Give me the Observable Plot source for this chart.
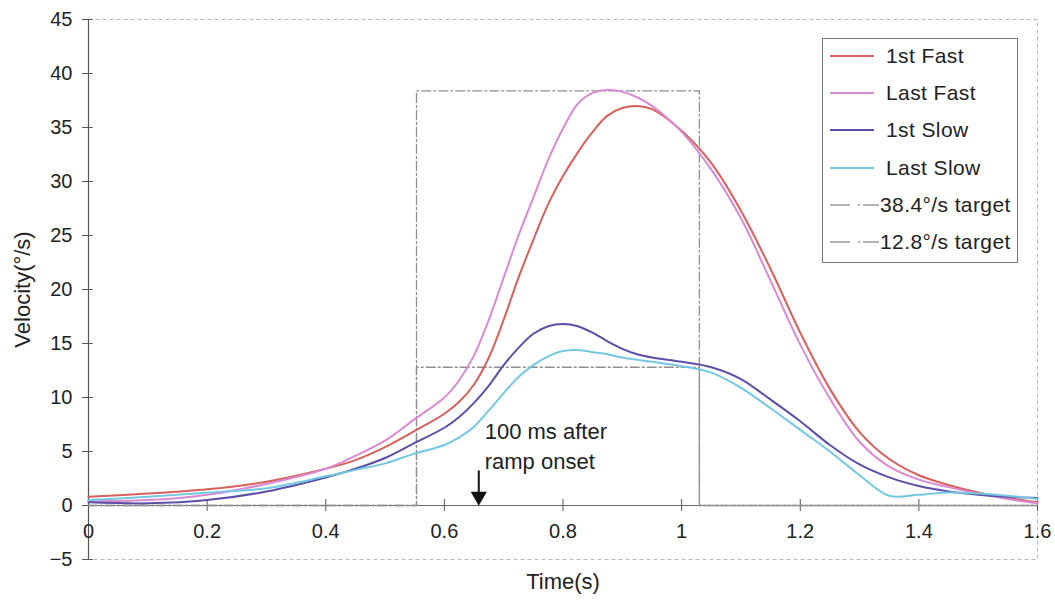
<!DOCTYPE html>
<html>
<head>
<meta charset="utf-8">
<script src="https://cdn.jsdelivr.net/npm/d3@7"></script>
<script src="https://cdn.jsdelivr.net/npm/@observablehq/plot@0.6"></script>
<style>
  body { margin: 0; background: #fff; font-family: "Liberation Sans", Arial, sans-serif; }
  #wrap { position: relative; width: 1055px; height: 601px; }
  #legend { position: absolute; left: 822px; top: 38px; width: 196px; height: 225px; border: 1px solid #777; background: #fff; box-sizing: border-box; }
  .row { position: absolute; left: 0; height: 24px; display: flex; align-items: center; font-size: 21px; color: #222; letter-spacing: 0.4px; white-space: nowrap; }
  .row svg { flex: none; }
</style>
</head>
<body>
<div id="wrap"></div>
<script>
// ---- data ----
const times      = [0, 0.1, 0.2, 0.3, 0.4, 0.45, 0.5, 0.55, 0.6, 0.625, 0.65, 0.675, 0.7, 0.725, 0.75, 0.775, 0.8, 0.825, 0.85, 0.875, 0.9, 0.925, 0.95, 1.0, 1.05, 1.1, 1.15, 1.2, 1.25, 1.3, 1.35, 1.4, 1.45, 1.5, 1.55, 1.6];
const firstFast  = [0.8, 1.1, 1.5, 2.2, 3.4, 4.2, 5.4, 6.9, 8.5, 9.6, 11.2, 13.7, 17.2, 21.1, 24.6, 27.9, 30.5, 32.7, 34.6, 36.1, 36.8, 37.0, 36.7, 34.7, 31.7, 27.3, 21.9, 16.0, 10.8, 6.8, 4.3, 2.8, 1.9, 1.2, 0.7, 0.3];
const lastFast   = [0.4, 0.5, 1.0, 2.0, 3.4, 4.6, 6.0, 8.0, 10.0, 11.6, 13.9, 17.2, 21.1, 25.0, 28.5, 32.0, 34.9, 37.2, 38.2, 38.5, 38.3, 37.8, 37.0, 34.6, 31.1, 26.6, 20.8, 14.9, 9.9, 5.9, 3.6, 2.4, 1.7, 1.1, 0.6, 0.2];
const firstSlow  = [0.3, 0.2, 0.5, 1.3, 2.6, 3.4, 4.4, 5.8, 7.2, 8.2, 9.5, 11.1, 13.0, 14.6, 15.9, 16.6, 16.8, 16.6, 16.0, 15.2, 14.5, 14.0, 13.7, 13.3, 12.8, 11.7, 9.8, 7.8, 5.6, 3.8, 2.6, 1.8, 1.3, 1.0, 0.8, 0.7];
const lastSlow   = [0.5, 0.8, 1.2, 1.6, 2.7, 3.3, 3.9, 4.8, 5.6, 6.3, 7.3, 8.8, 10.4, 11.9, 13.0, 13.8, 14.3, 14.4, 14.2, 14.0, 13.7, 13.5, 13.3, 12.9, 12.3, 10.9, 9.0, 7.0, 5.0, 2.8, 0.9, 1.0, 1.2, 1.1, 0.9, 0.6];

const seriesNames  = ["1st Fast", "Last Fast", "1st Slow", "Last Slow"];
const seriesValues = [firstFast, lastFast, firstSlow, lastSlow];
const seriesColors = ["#d8605a", "#d98ad2", "#5b4fa8", "#74c8e2"];

const targetNames  = ["38.4°/s target", "12.8°/s target"];
const targetLevels = [38.4, 12.8];
const rampOnset = 0.553, rampEnd = 1.03, endTime = 1.6;

const annotationText = "100 ms after\nramp onset";
const annotationTime = 0.658;

const xTicks = [0, 0.2, 0.4, 0.6, 0.8, 1, 1.2, 1.4, 1.6];
const yTicks = [-5, 0, 5, 10, 15, 20, 25, 30, 35, 40, 45];

// ---- build tables ----
const curves = seriesNames.flatMap((name, i) =>
  times.map((t, j) => ({series: name, t, v: seriesValues[i][j]})));
const targets = targetNames.flatMap((name, i) => {
  const L = targetLevels[i];
  return [[0, 0], [rampOnset, 0], [rampOnset, L], [rampEnd, L], [rampEnd, 0], [endTime, 0]]
    .map(([t, v]) => ({series: name, t, v}));
});

const fs = 20;
const chart = Plot.plot({
  width: 1055,
  height: 601,
  marginLeft: 88,
  marginRight: 18,
  marginTop: 19,
  marginBottom: 42,
  style: {fontFamily: "'Liberation Sans', Arial, sans-serif", fontSize: fs + "px", color: "#222", background: "#fff"},
  x: {domain: [0, 1.6], axis: null},
  y: {domain: [-5, 45], axis: null},
  color: {domain: seriesNames, range: seriesColors},
  marks: [
    Plot.frame({stroke: "#b8b8b8", strokeDasharray: "4,3"}),
    Plot.ruleX([0], {stroke: "#555", strokeWidth: 1.2}),
    Plot.ruleY([0], {stroke: "#6a6a6a", strokeWidth: 1.2}),
    Plot.ruleY(yTicks, {y: d => d, x1: -0.01, x2: 0.008, stroke: "#555"}),
    Plot.axisY(yTicks, {tickSize: 0, tickPadding: 16, fontSize: fs, label: null, letterSpacing: 0.5}),
    Plot.ruleX(xTicks, {x: d => d, y1: -0.55, y2: 0.55, stroke: "#555"}),
    Plot.text(xTicks, {x: d => d, y: 0, dy: 26, text: d => String(d), fontSize: fs, fill: "#222", letterSpacing: 0.5}),
    Plot.line(targets, {x: "t", y: "v", z: "series", stroke: "#8f8f8f", strokeWidth: 1.3, strokeDasharray: "9,3,2,3"}),
    Plot.line(curves, {x: "t", y: "v", z: "series", stroke: "series", strokeWidth: 2, curve: "catmull-rom"}),
    Plot.text([annotationText], {x: 0.668, y: 8.15, text: d => d, textAnchor: "start", lineAnchor: "top", lineHeight: 1.36, fontSize: 22, fill: "#222", letterSpacing: 0.5}),
    Plot.ruleX([annotationTime], {x: d => d, y1: 3.2, y2: 1.0, stroke: "#111", strokeWidth: 2}),
    Plot.dot([annotationTime], {x: d => d, y: 0.85, symbol: "triangle", rotate: 180, r: 6, fill: "#111", stroke: "none"}),
    Plot.text(["Velocity(°/s)"], {frameAnchor: "left", dx: -66, rotate: -90, textAnchor: "middle", text: d => d, fontSize: 22, fill: "#222", letterSpacing: 0.6}),
    Plot.text(["Time(s)"], {frameAnchor: "bottom", dy: 29, text: d => d, fontSize: 22, fill: "#222", letterSpacing: 0.3})
  ]
});

const wrap = document.getElementById("wrap");
wrap.appendChild(chart);

// legend
const legend = document.createElement("div");
legend.id = "legend";
const rowTops = [5, 42, 79, 117, 154, 191];
const entries = [
  ...seriesNames.map((n, i) => ({name: n, color: seriesColors[i], dash: null})),
  ...targetNames.map(n => ({name: n, color: "#9a9a9a", dash: "20,8,2,3,12,0"}))
];
entries.forEach((e, i) => {
  const row = document.createElement("div");
  row.className = "row";
  row.style.top = rowTops[i] + "px";
  const svg = d3.create("svg").attr("width", e.dash ? 57 : 63).attr("height", 24);
  svg.append("line").attr("x1", 7).attr("x2", e.dash ? 56 : 51).attr("y1", 12).attr("y2", 12)
    .attr("stroke", e.color).attr("stroke-width", e.dash ? 1.3 : 2)
    .attr("stroke-dasharray", e.dash);
  row.appendChild(svg.node());
  const span = document.createElement("span");
  span.textContent = e.name;
  row.appendChild(span);
  legend.appendChild(row);
});
wrap.appendChild(legend);
</script>
</body>
</html>
